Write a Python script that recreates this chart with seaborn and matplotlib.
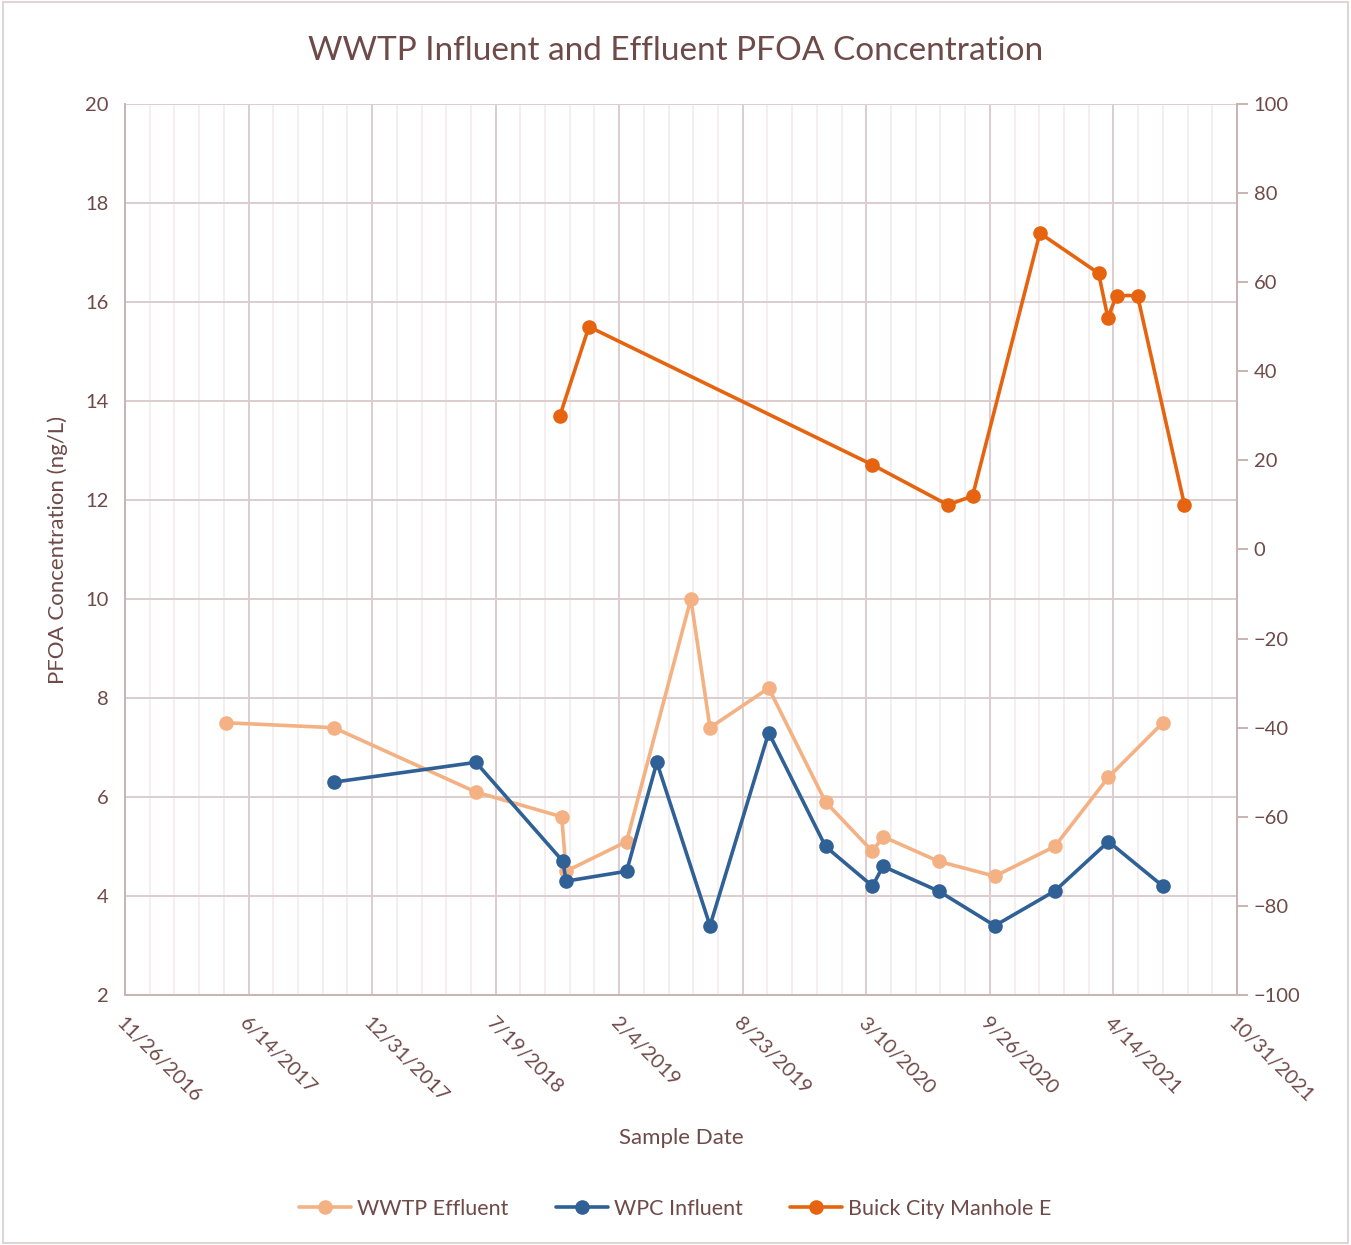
import pandas as pd
import matplotlib
matplotlib.use("Agg")
import matplotlib.pyplot as plt
from matplotlib.lines import Line2D
from matplotlib.patches import Rectangle
import seaborn as sns

# --- data ---
eff_dates = ["2017-05-08", "2017-10-30", "2018-06-17", "2018-11-03", "2018-11-10",
             "2019-02-16", "2019-05-31", "2019-07-01", "2019-10-04", "2020-01-04",
             "2020-03-20", "2020-04-06", "2020-07-05", "2020-10-04", "2021-01-09",
             "2021-04-06", "2021-07-03"]
eff_vals = [7.5, 7.4, 6.1, 5.6, 4.5, 5.1, 10.0, 7.4, 8.2, 5.9, 4.9, 5.2, 4.7, 4.4, 5.0, 6.4, 7.5]

inf_dates = ["2017-10-30", "2018-06-17", "2018-11-05", "2018-11-10", "2019-02-16",
             "2019-04-06", "2019-07-01", "2019-10-04", "2020-01-04", "2020-03-20",
             "2020-04-06", "2020-07-05", "2020-10-04", "2021-01-09", "2021-04-06",
             "2021-07-03"]
inf_vals = [6.3, 6.7, 4.7, 4.3, 4.5, 6.7, 3.4, 7.3, 5.0, 4.2, 4.6, 4.1, 3.4, 4.1, 5.1, 4.2]

buick_dates = ["2018-10-31", "2018-12-17", "2020-03-20", "2020-07-20", "2020-08-29",
               "2020-12-16", "2021-03-21", "2021-04-05", "2021-04-19", "2021-05-23",
               "2021-08-07"]
buick_vals = [30, 50, 19, 10, 12, 71, 62, 52, 57, 57, 10]

labels = ["WWTP Effluent", "WPC Influent", "Buick City Manhole E"]
colors = ["#F4B183", "#2F6096", "#E6640F"]
txt = "#6E4A48"

eff = pd.DataFrame({"date": pd.to_datetime(eff_dates), "val": eff_vals})
inf = pd.DataFrame({"date": pd.to_datetime(inf_dates), "val": inf_vals})
buick = pd.DataFrame({"date": pd.to_datetime(buick_dates), "val": buick_vals})

sns.set_style("white")
plt.rcParams['font.family'] = ['Lato', 'DejaVu Sans']

fig = plt.figure(figsize=(13.51, 12.45), dpi=100)
ax = fig.add_axes([0.0925, 0.2008, 0.8231, 0.7157])
ax2 = ax.twinx()

kw = dict(marker="o", markersize=10.5, linewidth=2.6, markeredgewidth=0, estimator=None, sort=False)
sns.lineplot(data=eff, x="date", y="val", ax=ax, color=colors[0], **kw)
sns.lineplot(data=inf, x="date", y="val", ax=ax, color=colors[1], **kw)
sns.lineplot(data=buick, x="date", y="val", ax=ax2, color=colors[2], **kw)

start = pd.Timestamp("2016-11-26")
end = pd.Timestamp("2021-10-31")
major = pd.date_range(start, end, freq="200D")
minor = pd.date_range(start, end, freq="40D")
ax.set_xlim(start, end)
ax.set_xticks(major)
ax.set_xticks(minor, minor=True)
ax.set_xticklabels([f"{d.month}/{d.day}/{d.year}" for d in major], rotation=-45,
                   ha="left", va="top", rotation_mode="anchor", fontsize=14.5, color=txt)

ax.set_ylim(2, 20)
ax.set_yticks(range(2, 21, 2))
ax2.set_ylim(-100, 100)
ax2.set_yticks(range(-100, 101, 20))

ax.grid(True, which="major", color="#DCCDCD", linewidth=1.4)
ax.grid(True, which="minor", axis="x", color="#F3EDED", linewidth=1.3)
ax.set_axisbelow(True)
ax2.grid(False)

ax.tick_params(axis="y", labelsize=14.5, labelcolor=txt, length=0, pad=12)
ax.tick_params(axis="x", which="both", length=0, pad=14)
ax2.tick_params(axis="y", labelsize=14.5, labelcolor=txt, length=8, width=1.4,
                color="#C9B3B3", direction="out", pad=4, right=True)
for a in (ax, ax2):
    for s in a.spines.values():
        s.set_visible(False)
ax.spines["left"].set_visible(True)
ax.spines["bottom"].set_visible(True)
ax2.spines["right"].set_visible(True)
for s in (ax.spines["left"], ax.spines["bottom"], ax2.spines["right"]):
    s.set_color("#C9B3B3")
    s.set_linewidth(1.4)

ax.set_xlabel("Sample Date", fontsize=16, color=txt, labelpad=16)
ax.set_ylabel("PFOA Concentration (ng/L)", fontsize=16, color=txt, labelpad=12)
ax2.set_ylabel("")
ax2.set_xlabel("")

fig.suptitle("WWTP Influent and Effluent PFOA Concentration", y=0.971, fontsize=24, color=txt)

handles = [Line2D([0], [0], color=c, marker="o", markersize=10.5, linewidth=2.6, markeredgewidth=0)
           for c in colors]
fig.legend(handles, labels, loc="center", bbox_to_anchor=(0.5, 0.029), ncol=3, frameon=False,
           fontsize=15.5, labelcolor=txt, handlelength=2.4, columnspacing=2.2, handletextpad=0.3)

fig.patches.append(Rectangle((0.002, 0.002), 0.996, 0.996, transform=fig.transFigure,
                             fill=False, edgecolor="#E0D4D4", linewidth=1.5))

fig.savefig("out.png", dpi=100)
